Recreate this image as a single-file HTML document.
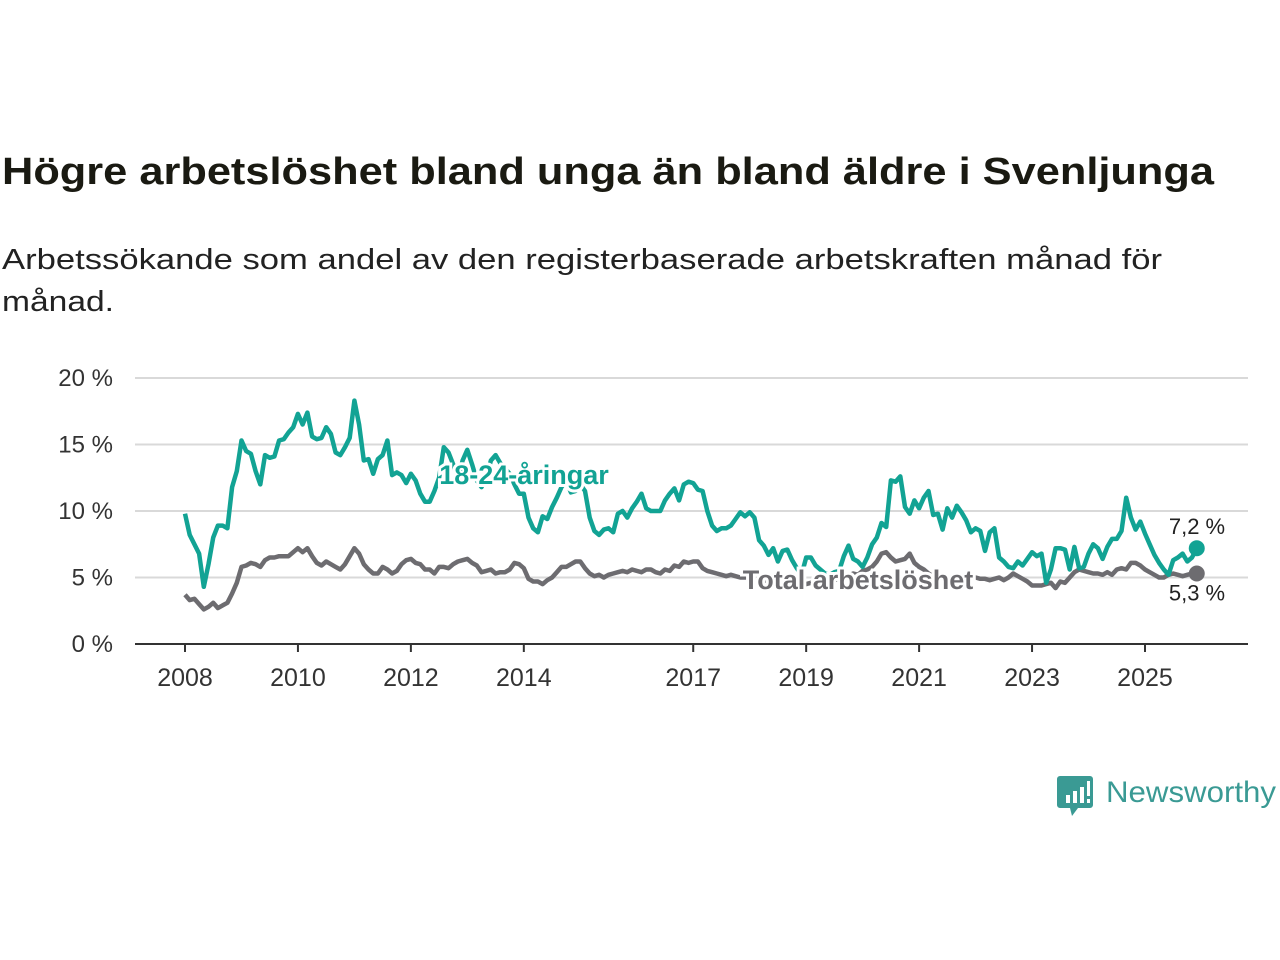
<!DOCTYPE html>
<html><head><meta charset="utf-8"><style>
html,body{margin:0;padding:0;background:#fff;}
svg{display:block;font-family:"Liberation Sans",sans-serif;}
</style></head><body>
<svg id="chart" width="1280" height="960" viewBox="0 0 1280 960" xmlns="http://www.w3.org/2000/svg">
<text x="2" y="184" font-size="38" font-weight="bold" fill="#1a1a12" textLength="1212" lengthAdjust="spacingAndGlyphs">Högre arbetslöshet bland unga än bland äldre i Svenljunga</text>
<text x="2" y="269" font-size="29" fill="#222" textLength="1160" lengthAdjust="spacingAndGlyphs">Arbetssökande som andel av den registerbaserade arbetskraften månad för</text>
<text x="2" y="311" font-size="29" fill="#222" textLength="112" lengthAdjust="spacingAndGlyphs">månad.</text>
<g id="grid"></g>
<g id="yticks"></g>
<g id="xticks"></g>
<g id="series"></g>
<g>
<path d="M1060 776 h30 a3 3 0 0 1 3 3 v26 a3 3 0 0 1 -3 3 h-12 l-6 8 l-2 -8 h-10 a3 3 0 0 1 -3 -3 v-26 a3 3 0 0 1 3 -3z" fill="#3a9a94"/>
<rect x="1066" y="795" width="4" height="8" fill="#fff"/><rect x="1073" y="791" width="4" height="12" fill="#fff"/><rect x="1080" y="787" width="4" height="16" fill="#fff"/><rect x="1087" y="781" width="3" height="15" fill="#fff"/><rect x="1087" y="799" width="3" height="4" fill="#fff"/>
<text x="1106" y="802" font-size="30" fill="#3a9a94" textLength="170" lengthAdjust="spacingAndGlyphs">Newsworthy</text>
</g>
</svg>
<script>
const yTicks=[0,5,10,15,20];
const yTickLabels=["0 %","5 %","10 %","15 %","20 %"];
const xTickYears=[2008,2010,2012,2014,2017,2019,2021,2023,2025];
const startYear=2008;
const youth=[
9.8,8.2,7.5,6.8,4.3,6.0,8.0,8.9,8.9,8.7,11.8,13.0,
15.3,14.5,14.3,13.0,12.0,14.2,14.0,14.1,15.3,15.4,15.9,16.3,
17.3,16.5,17.4,15.6,15.4,15.5,16.3,15.8,14.4,14.2,14.8,15.5,
18.3,16.5,13.8,13.9,12.8,13.9,14.2,15.3,12.7,12.9,12.7,12.1,
12.8,12.3,11.3,10.7,10.7,11.5,12.5,14.8,14.4,13.5,12.4,13.8,
14.6,13.5,12.3,11.8,12.5,13.8,14.2,13.6,13.2,12.8,12.0,11.3,
11.3,9.5,8.7,8.4,9.6,9.4,10.3,11.0,11.8,12.3,11.4,11.5,
12.0,11.5,9.5,8.5,8.2,8.6,8.7,8.4,9.8,10.0,9.5,10.2,
10.7,11.3,10.2,10.0,10.0,10.0,10.8,11.3,11.7,10.8,12.0,12.2,
12.1,11.6,11.5,10.0,8.9,8.5,8.7,8.7,8.9,9.4,9.9,9.6,
9.9,9.5,7.8,7.4,6.7,7.2,6.2,7.0,7.1,6.3,5.7,5.2,
6.5,6.5,5.9,5.6,5.3,5.2,5.4,5.5,6.6,7.4,6.4,6.2,
5.8,6.5,7.5,8.0,9.1,8.8,12.3,12.2,12.6,10.3,9.8,10.8,
10.2,11.0,11.5,9.7,9.8,8.6,10.2,9.5,10.4,9.9,9.3,8.4,
8.7,8.5,7.0,8.4,8.7,6.5,6.2,5.8,5.7,6.2,5.9,6.4,
6.9,6.6,6.8,4.6,5.6,7.2,7.2,7.1,5.6,7.3,5.7,5.8,
6.8,7.5,7.2,6.4,7.3,7.9,7.9,8.5,11.0,9.5,8.6,9.2,
8.3,7.5,6.7,6.1,5.6,5.2,6.3,6.5,6.8,6.2,6.5,7.2];
const total=[
3.7,3.3,3.4,3.0,2.6,2.8,3.1,2.7,2.9,3.1,3.8,4.6,
5.8,5.9,6.1,6.0,5.8,6.3,6.5,6.5,6.6,6.6,6.6,6.9,
7.2,6.9,7.2,6.6,6.1,5.9,6.2,6.0,5.8,5.6,6.0,6.6,
7.2,6.8,6.0,5.6,5.3,5.3,5.8,5.6,5.3,5.5,6.0,6.3,
6.4,6.1,6.0,5.6,5.6,5.3,5.8,5.8,5.7,6.0,6.2,6.3,
6.4,6.1,5.9,5.4,5.5,5.6,5.3,5.4,5.4,5.6,6.1,6.0,
5.7,4.9,4.7,4.7,4.5,4.8,5.0,5.4,5.8,5.8,6.0,6.2,
6.2,5.7,5.3,5.1,5.2,5.0,5.2,5.3,5.4,5.5,5.4,5.6,
5.5,5.4,5.6,5.6,5.4,5.3,5.6,5.5,5.9,5.8,6.2,6.1,
6.2,6.2,5.7,5.5,5.4,5.3,5.2,5.1,5.2,5.1,5.0,5.0,
5.0,4.9,4.8,4.8,4.7,4.6,4.8,4.7,4.6,4.6,4.5,4.5,
4.5,4.6,4.6,4.7,4.6,4.6,4.8,4.9,5.0,5.1,5.3,5.2,
5.5,5.6,5.8,6.2,6.8,6.9,6.5,6.2,6.3,6.4,6.8,6.1,
5.8,5.6,5.3,5.1,5.0,4.9,4.8,4.8,4.7,4.8,5.0,5.0,
5.0,4.9,4.9,4.8,4.9,5.0,4.8,5.0,5.3,5.1,4.9,4.7,
4.4,4.4,4.4,4.5,4.6,4.2,4.7,4.6,5.0,5.4,5.6,5.5,
5.4,5.3,5.3,5.2,5.4,5.2,5.6,5.7,5.6,6.1,6.1,5.9,
5.6,5.4,5.2,5.0,5.0,5.2,5.3,5.2,5.1,5.2,5.3,5.3];
const seriesNames=["18-24-åringar","Total arbetslöshet"];
const lastLabels=["7,2 %","5,3 %"];

const NS="http://www.w3.org/2000/svg";
const X0=185, PXYEAR=56.47, Y0=644, PXPCT=13.3, LEFT=135, RIGHT=1248;
const xs=i=>X0+i*PXYEAR/12;
const xYear=y=>X0+(y-startYear)*PXYEAR;
const ys=v=>Y0-v*PXPCT;
function mk(tag,attrs,parent,text){const e=document.createElementNS(NS,tag);for(const k in attrs)e.setAttribute(k,attrs[k]);if(text!==undefined)e.textContent=text;parent.appendChild(e);return e;}
const grid=document.getElementById('grid'), yt=document.getElementById('yticks'), xt=document.getElementById('xticks'), sg=document.getElementById('series');
yTicks.forEach((t,i)=>{
  if(t>0){const l=mk('line',{x1:LEFT,x2:RIGHT,y1:ys(t),y2:ys(t),stroke:'#d9d9d9','stroke-width':2},grid);
  
  }
  const tx=mk('text',{x:113,y:ys(t)+8,'font-size':24,fill:'#333','text-anchor':'end'},yt,yTickLabels[i]);
  
  
});
const ax=mk('line',{x1:LEFT,x2:RIGHT,y1:Y0,y2:Y0,stroke:'#333','stroke-width':2},xt);


xTickYears.forEach(y=>{
  const tk=mk('line',{x1:xYear(y),x2:xYear(y),y1:Y0,y2:Y0+8,stroke:'#333','stroke-width':2},xt);
  
  
  const tx=mk('text',{x:xYear(y),y:686,'font-size':25,fill:'#333','text-anchor':'middle'},xt,String(y));
  
  
});
const cols=['#12a394','#6d6c70'];
[total,youth].forEach((arr,k)=>{
  const idx=arr===youth?0:1;
  const d=arr.map((v,i)=>(i?'L':'M')+xs(i).toFixed(1)+' '+ys(v).toFixed(1)).join(' ');
  const p=mk('path',{d:d,fill:'none',stroke:cols[idx],'stroke-width':4.5,'stroke-linejoin':'round'},sg);
  
  
  const n=arr.length-1;
  const c=mk('circle',{cx:xs(n),cy:ys(arr[n]),r:8,fill:cols[idx]},sg);
  
  
});
const l1=mk('text',{x:1197,y:ys(youth[youth.length-1])-14,'font-size':22,fill:'#222','text-anchor':'middle',stroke:'#fff','stroke-width':5,'paint-order':'stroke'},sg,lastLabels[0]);


const l2=mk('text',{x:1197,y:ys(total[total.length-1])+27,'font-size':22,fill:'#222','text-anchor':'middle',stroke:'#fff','stroke-width':5,'paint-order':'stroke'},sg,lastLabels[1]);


const s1=mk('text',{x:524,y:484,'font-size':27,'font-weight':'bold',fill:'#12a394','text-anchor':'middle',stroke:'#fff','stroke-width':6,'paint-order':'stroke'},sg,seriesNames[0]);


const s2=mk('text',{x:858,y:589,'font-size':27,'font-weight':'bold',fill:'#6d6c70','text-anchor':'middle',stroke:'#fff','stroke-width':6,'paint-order':'stroke'},sg,seriesNames[1]);


</script>
</body></html>
